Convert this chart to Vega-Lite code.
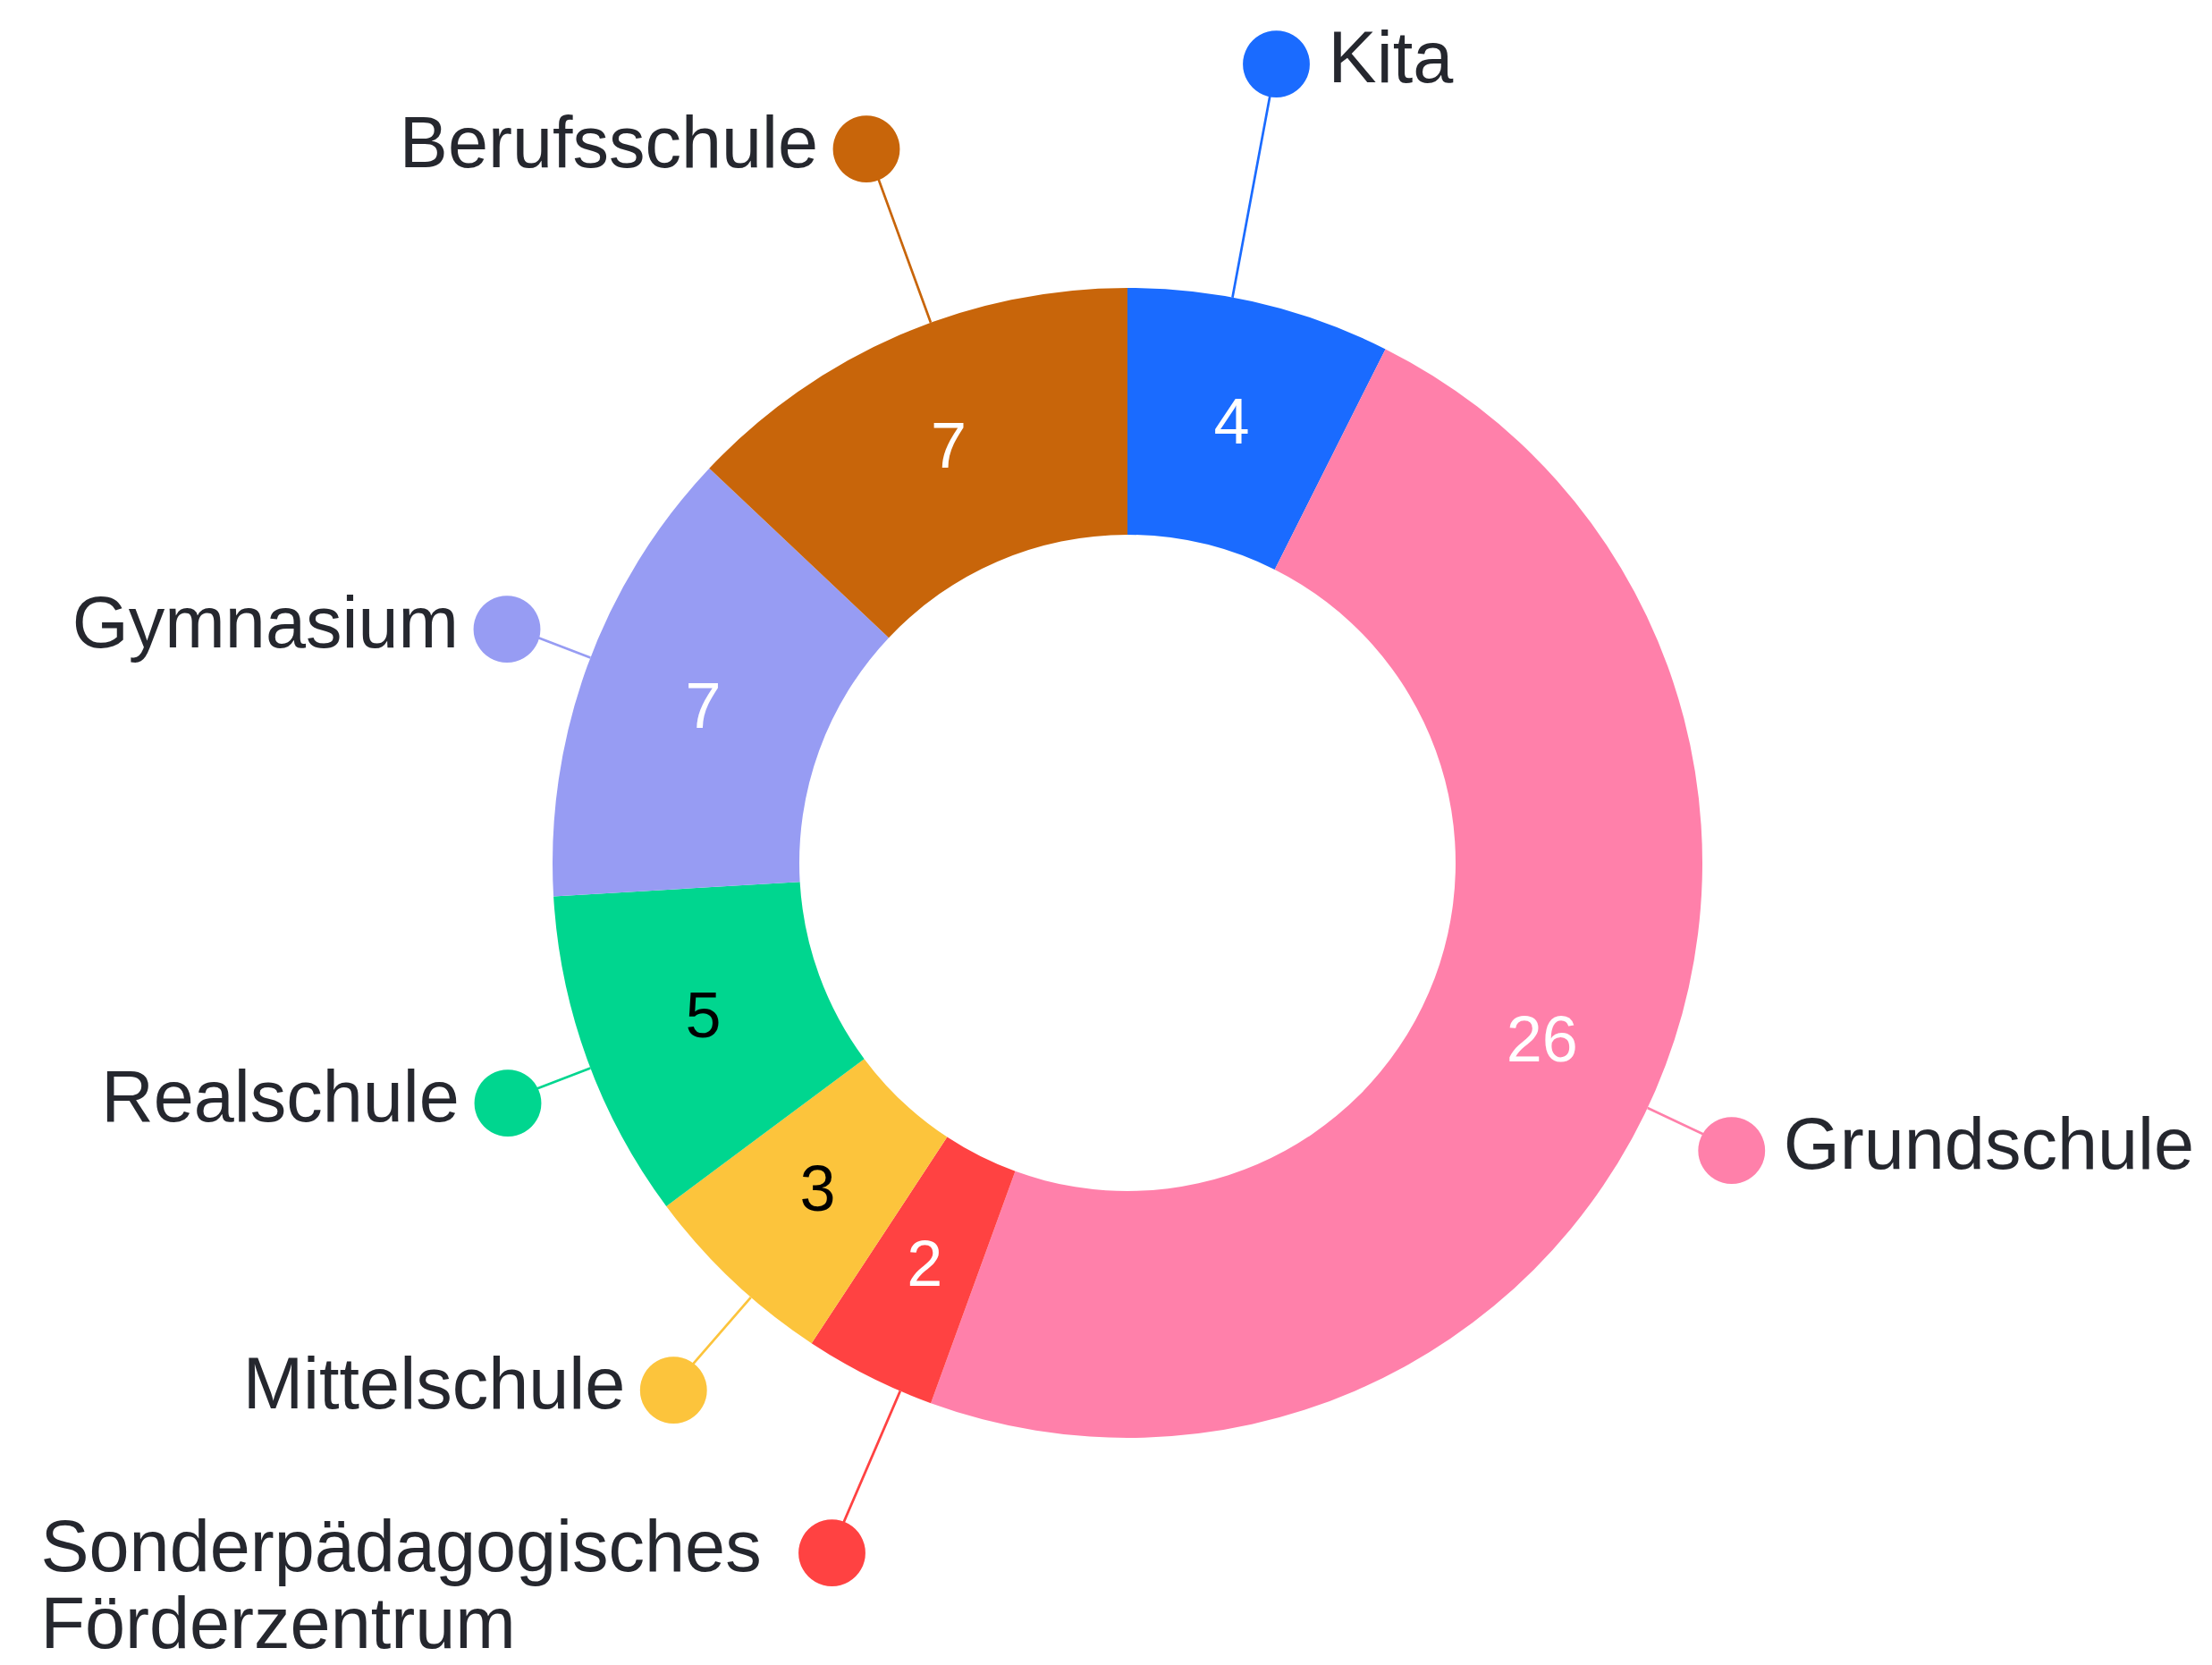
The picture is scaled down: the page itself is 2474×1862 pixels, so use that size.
{
  "$schema": "https://vega.github.io/schema/vega-lite/v6.json",
  "width": 2426,
  "height": 1794,
  "autosize": {"type": "none"},
  "padding": {"left": 48, "top": 68, "right": 0, "bottom": 0},
  "background": "#ffffff",
  "config": {"view": {"stroke": null}},
  "data": {
    "values": [
      {"category": "Kita", "value": 4},
      {"category": "Grundschule", "value": 26},
      {"category": "Sonderpädagogisches Förderzentrum", "value": 2},
      {"category": "Mittelschule", "value": 3},
      {"category": "Realschule", "value": 5},
      {"category": "Gymnasium", "value": 7},
      {"category": "Berufsschule", "value": 7}
    ]
  },
  "transform": [{"window": [{"op": "row_number", "as": "rank"}]}],
  "encoding": {
    "theta": {"field": "value", "type": "quantitative", "stack": true},
    "order": {"field": "rank", "type": "quantitative"},
    "detail": {"field": "category"},
    "color": {
      "field": "category",
      "type": "nominal",
      "legend": null,
      "scale": {
        "domain": ["Kita", "Grundschule", "Sonderpädagogisches Förderzentrum", "Mittelschule", "Realschule", "Gymnasium", "Berufsschule"],
        "range": ["#1a6bff", "#ff80aa", "#ff4242", "#fcc43c", "#00d68f", "#979cf3", "#c8650a"]
      }
    }
  },
  "layer": [
    {"mark": {"type": "arc", "radius": 643, "radius2": 367}},
    {
      "mark": {
        "type": "arc",
        "filled": false,
        "padAngle": 3.14,
        "strokeWidth": 2.7,
        "radius": {"expr": "{'Kita':912,'Grundschule':747,'Sonderpädagogisches Förderzentrum':836,'Mittelschule':775,'Realschule':742,'Gymnasium':743,'Berufsschule':853}[datum.category]"},
        "radius2": 643,
        "thetaOffset": {"expr": "{'Kita':-0.049,'Grundschule':0.033,'Sonderpädagogisches Förderzentrum':-0.059,'Mittelschule':-0.042,'Realschule':-0.016,'Gymnasium':0.016,'Berufsschule':0.058}[datum.category]"},
        "theta2Offset": {"expr": "{'Kita':-0.049,'Grundschule':0.033,'Sonderpädagogisches Förderzentrum':-0.059,'Mittelschule':-0.042,'Realschule':-0.016,'Gymnasium':0.016,'Berufsschule':0.058}[datum.category]"}
      }
    },
    {
      "mark": {
        "type": "text",
        "text": "●",
        "font": "DejaVu Sans",
        "fontSize": 98,
        "align": "center",
        "baseline": "middle",
        "radius": {"expr": "{'Kita':912,'Grundschule':747,'Sonderpädagogisches Förderzentrum':836,'Mittelschule':775,'Realschule':742,'Gymnasium':743,'Berufsschule':853}[datum.category]"},
        "thetaOffset": {"expr": "{'Kita':-0.049,'Grundschule':0.033,'Sonderpädagogisches Förderzentrum':-0.059,'Mittelschule':-0.042,'Realschule':-0.016,'Gymnasium':0.016,'Berufsschule':0.058}[datum.category]"}
      }
    },
    {
      "mark": {"type": "text", "radius": 505, "font": "Liberation Sans", "fontSize": 72, "align": "center", "baseline": "middle"},
      "encoding": {
        "text": {"field": "value", "type": "quantitative"},
        "color": {"condition": {"test": "datum.category === 'Realschule' || datum.category === 'Mittelschule'", "value": "#000000"}, "value": "#ffffff"}
      }
    },
    {
      "mark": {
        "type": "text",
        "align": "left",
        "baseline": "middle",
        "dx": 58,
        "font": "Liberation Sans",
        "fontSize": 81,
        "radius": {"expr": "{'Kita':912,'Grundschule':747,'Sonderpädagogisches Förderzentrum':836,'Mittelschule':775,'Realschule':742,'Gymnasium':743,'Berufsschule':853}[datum.category]"},
        "thetaOffset": {"expr": "{'Kita':-0.049,'Grundschule':0.033,'Sonderpädagogisches Förderzentrum':-0.059,'Mittelschule':-0.042,'Realschule':-0.016,'Gymnasium':0.016,'Berufsschule':0.058}[datum.category]"}
      },
      "encoding": {
        "text": {"condition": {"test": "datum.category === 'Kita' || datum.category === 'Grundschule'", "field": "category"}, "value": ""},
        "color": {"value": "#25272e"}
      }
    },
    {
      "mark": {
        "type": "text",
        "align": "right",
        "baseline": "middle",
        "dx": -54,
        "font": "Liberation Sans",
        "fontSize": 81,
        "radius": {"expr": "{'Kita':912,'Grundschule':747,'Sonderpädagogisches Förderzentrum':836,'Mittelschule':775,'Realschule':742,'Gymnasium':743,'Berufsschule':853}[datum.category]"},
        "thetaOffset": {"expr": "{'Kita':-0.049,'Grundschule':0.033,'Sonderpädagogisches Förderzentrum':-0.059,'Mittelschule':-0.042,'Realschule':-0.016,'Gymnasium':0.016,'Berufsschule':0.058}[datum.category]"}
      },
      "encoding": {
        "text": {"condition": {"test": "datum.category === 'Berufsschule' || datum.category === 'Gymnasium' || datum.category === 'Realschule' || datum.category === 'Mittelschule'", "field": "category"}, "value": ""},
        "color": {"value": "#25272e"}
      }
    },
    {
      "mark": {
        "type": "text",
        "align": "left",
        "baseline": "middle",
        "dx": -885,
        "lineBreak": " ",
        "lineHeight": 86,
        "font": "Liberation Sans",
        "fontSize": 81,
        "radius": {"expr": "{'Kita':912,'Grundschule':747,'Sonderpädagogisches Förderzentrum':836,'Mittelschule':775,'Realschule':742,'Gymnasium':743,'Berufsschule':853}[datum.category]"},
        "thetaOffset": {"expr": "{'Kita':-0.049,'Grundschule':0.033,'Sonderpädagogisches Förderzentrum':-0.059,'Mittelschule':-0.042,'Realschule':-0.016,'Gymnasium':0.016,'Berufsschule':0.058}[datum.category]"}
      },
      "encoding": {
        "text": {"condition": {"test": "datum.category === 'Sonderpädagogisches Förderzentrum'", "field": "category"}, "value": ""},
        "color": {"value": "#25272e"}
      }
    }
  ]
}
